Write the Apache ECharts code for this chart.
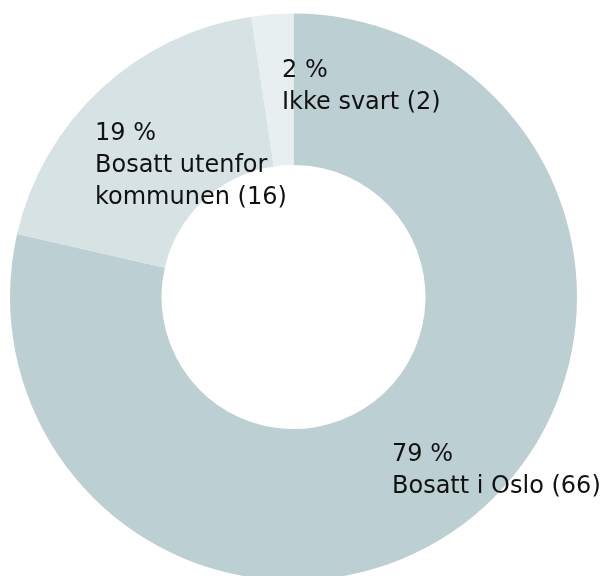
<!DOCTYPE html>
<html>
<head>
<meta charset="utf-8">
<script src="https://cdn.jsdelivr.net/npm/echarts@6/dist/echarts.min.js"></script>
<style>
  html, body { margin: 0; padding: 0; background: #fff; }
  #chart { width: 608px; height: 576px; }
</style>
</head>
<body>
<div id="chart"></div>
<script>
// kategorier og antall
const categories = ['Bosatt i Oslo', 'Bosatt utenfor\nkommunen', 'Ikke svart'];
const counts = [66, 16, 2];

// farger og plassering av etiketter (venstre, topp)
const palette = ['#bccfd3', '#d6e2e4', '#e8eff1'];
const labelPos = [[392, 439], [95, 118], [282, 55]];

const chart = echarts.init(document.getElementById('chart'));

chart.setOption({
    animation: false,
    series: [{
        type: 'pie',
        center: [293.5, 297],
        radius: [132, 283.5],
        startAngle: 90,
        clockwise: true,
        percentPrecision: 0,
        silent: true,
        data: categories.map((name, i) => ({
            name: name,
            value: counts[i],
            itemStyle: { color: palette[i] }
        })),
        label: {
            show: true,
            position: 'inside',
            formatter: p => p.percent + ' %\n' + p.name + ' (' + p.value + ')',
            fontFamily: 'DejaVu Sans',
            fontSize: 24,
            lineHeight: 32,
            color: '#111',
            align: 'left'
        },
        labelLine: { show: false },
        labelLayout: function (params) {
            const pos = labelPos[params.dataIndex];
            return { x: pos[0], y: pos[1], align: 'left', verticalAlign: 'top' };
        }
    }]
});
</script>
</body>
</html>
